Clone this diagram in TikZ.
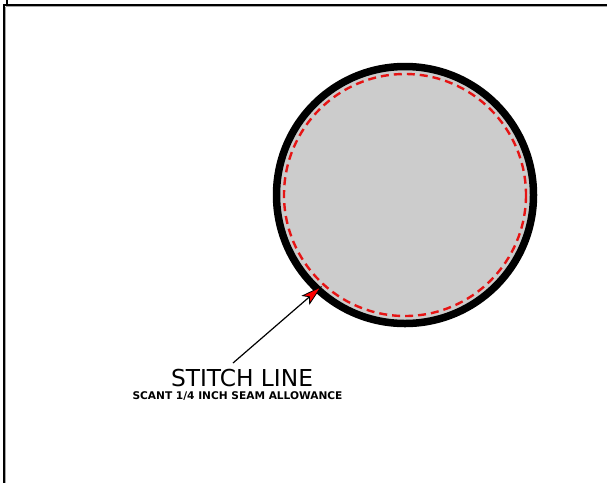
\documentclass[tikz,border=0pt]{standalone}
\usepackage{fontspec}
\setmainfont{DejaVu Sans}
\usetikzlibrary{arrows.meta}
\definecolor{fabric}{RGB}{204,204,204}
\definecolor{stitchred}{RGB}{230,20,20}
\tikzset{
  frameline/.style={line width=1.4pt, black},
  frameshadow/.style={line width=1.2pt, black!35},
  outerring/.style={draw=black, fill=fabric, line width=7.5pt},
  stitchring/.style={draw=stitchred, line width=2.4pt, dash pattern=on 8pt off 5pt},
  pointer/.style={draw=black, line width=1.2pt, -{Stealth[length=22pt, width=12pt, inset=5pt, fill=red, line width=0.8pt]}},
  titletext/.style={font=\fontsize{23.3}{27}\selectfont, inner sep=0pt},
  subtext/.style={font=\bfseries\fontsize{10.6}{12}\selectfont, inner sep=0pt}
}
\begin{document}
\begin{tikzpicture}[x=1pt, y=-1pt]
\useasboundingbox (0,0) rectangle (607,483);
% frame
\coordinate (f0) at (4,5);
\coordinate (f1) at (607,5);
\coordinate (f2) at (4,483);
\coordinate (t0) at (7,0);
\draw[frameshadow] (5.5,6.5) -- (607,6.5);
\draw[frameshadow] (5.5,6.5) -- (5.5,483);
\draw[frameline] (f1) -- (f0) -- (f2);
\draw[frameline] (t0) -- (7,5);
% circle
\coordinate (c) at (405,195);
\draw[outerring] (c) circle[radius=128.5];
\draw[stitchring] (c) circle[radius=121];
% label
\node[titletext] (title) at (242,378) {STITCH LINE};
\node[subtext] (sub) at (237.5,396.5) {SCANT 1/4 INCH SEAM ALLOWANCE};
\coordinate (tail) at (233,363);
\coordinate (tip) at (322,286);
\draw[pointer] (tail) -- (tip);
\end{tikzpicture}
\end{document}
